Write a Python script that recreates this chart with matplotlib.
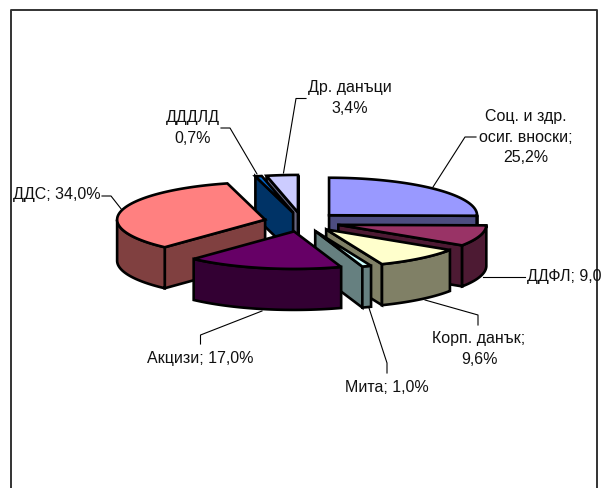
import numpy as np
import matplotlib
matplotlib.use('Agg')
import matplotlib.pyplot as plt

plt.rcParams['font.family'] = ['Liberation Sans', 'DejaVu Sans']

# share of revenue, clockwise from 12 o'clock
names = ['Соц. и здр.\nосиг. вноски;', 'ДДФЛ;', 'Корп. данък;', 'Мита;', 'Акцизи;', 'ДДС;', 'ДДДЛД', 'Др. данъци']
values = [25.2, 9.0, 9.6, 1.0, 17.0, 34.0, 0.7, 3.4]
top_colors = ['#9999FF', '#993366', '#FFFFCC', '#CCFFFF', '#660066', '#FF8080', '#0066CC', '#CCCCFF']
side_colors = ['#4D4D80', '#4D1A33', '#808066', '#668080', '#330033', '#804040', '#003366', '#666680']
label_seps = ['\n', ' ', '\n', ' ', ' ', ' ', '\n', '\n']

# text anchor (x, y, ha) for each label
label_pos = [(526, 137, 'center'), (527, 277, 'left'), (479, 349, 'center'), (386.5, 387, 'center'),
             (200.5, 358, 'center'), (13, 195, 'left'), (192.5, 128, 'center'), (350, 98, 'center')]
leaders = [[(433, 187), (465, 137), (476, 137)],
           [(483, 277), (525, 277)],
           [(425, 300), (478, 315), (478, 325)],
           [(369, 308), (387, 363), (387, 373)],
           [(262, 311), (200.5, 335), (200.5, 344)],
           [(122, 210), (111, 196), (102, 196)],
           [(257, 174), (230, 128), (221, 128)],
           [(283.5, 173), (296, 98.5), (306, 98.5)]]

# pie geometry in pixels
cx, cy = 302, 222
rx, ry = 148, 37.5
depth = 41
explode = 38 / rx
draw_order = [7, 6, 5, 0, 1, 2, 3, 4]


def pt(theta, ox, oy, dz=0):
    return ox + rx * np.sin(theta), oy - ry * np.cos(theta) + dz


def arc(a, b, ox, oy, dz=0):
    th = np.linspace(a, b, max(int(abs(b - a) * 60), 2))
    return np.column_stack(pt(th, ox, oy, dz))


fig = plt.figure(figsize=(6.02, 4.88), dpi=100)
ax = fig.add_axes([0, 0, 1, 1])
ax.set_xlim(0, 602)
ax.set_ylim(488, 0)
ax.axis('off')

# chart frame, the bottom edge is cut off
ax.plot([11, 11, 597, 597], [490, 10, 10, 490], color='#333333', lw=1.4, zorder=1, clip_on=False)

edges = np.cumsum([0] + values) / sum(values) * 2 * np.pi
style = dict(edgecolor='black', lw=1.9, joinstyle='miter')
z = 2
for i in draw_order:
    a, b = edges[i], edges[i + 1]
    mid = (a + b) / 2
    ox = cx + explode * rx * np.sin(mid)
    oy = cy - explode * ry * np.cos(mid)
    apex = np.array([[ox, oy]])
    down = np.array([[0, depth]])
    # cut faces which look towards the viewer
    if np.sin(b) > 0:
        edge = np.array([[ox, oy], pt(b, ox, oy)])
        ax.fill(*np.vstack([edge, edge[::-1] + down]).T, facecolor=side_colors[i], zorder=z, **style)
        z += 1
    if np.sin(a) < 0:
        edge = np.array([[ox, oy], pt(a, ox, oy)])
        ax.fill(*np.vstack([edge, edge[::-1] + down]).T, facecolor=side_colors[i], zorder=z, **style)
        z += 1
    # outer wall, only the front half of the ellipse
    lo, hi = max(a, np.pi / 2), min(b, 3 * np.pi / 2)
    if hi > lo:
        rim = arc(lo, hi, ox, oy)
        ax.fill(*np.vstack([rim, rim[::-1] + down]).T, facecolor=side_colors[i], zorder=z, **style)
        z += 1
    top = np.vstack([apex, arc(a, b, ox, oy)])
    ax.fill(*top.T, facecolor=top_colors[i], zorder=z, **style)
    z += 1

for line in leaders:
    xs, ys = zip(*line)
    ax.plot(xs, ys, color='black', lw=0.8, zorder=z)

for name, val, sep, (x, y, ha) in zip(names, values, label_seps, label_pos):
    txt = name + sep + f'{val:.1f}%'.replace('.', ',')
    ax.text(x, y, txt, ha=ha, va='center', fontsize=11.5, color='#111111', linespacing=1.43,
            multialignment='center', zorder=z + 1)

fig.savefig('out.png', dpi=100, facecolor='white')
